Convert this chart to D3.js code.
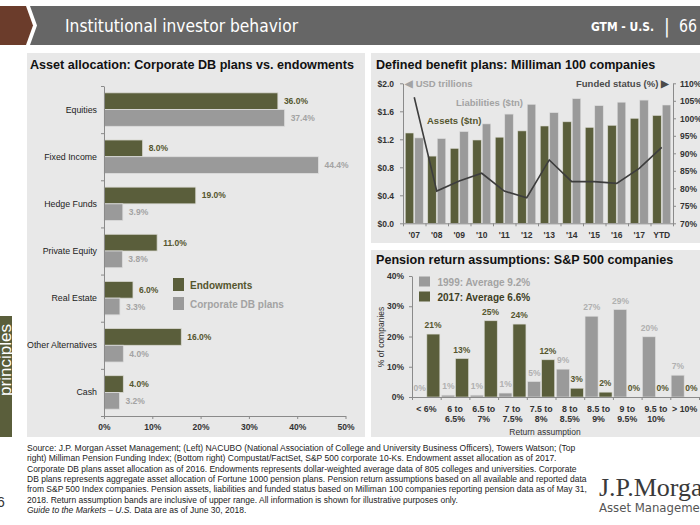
<!DOCTYPE html>
<html><head><meta charset="utf-8">
<script src="https://cdn.jsdelivr.net/npm/d3@7"></script>
<style>
html,body{margin:0;padding:0;background:#fff;}
svg{display:block;font-family:"Liberation Sans",Arial,Helvetica,sans-serif;}
</style></head><body>
<svg id="c" width="700" height="525"></svg>
<script>
// ---------- DATA ----------
const assetCats = ["Equities","Fixed Income","Hedge Funds","Private Equity","Real Estate","Other Alternatives","Cash"];
const endowments = [36.0, 8.0, 19.0, 11.0, 6.0, 16.0, 4.0];
const corporateDB = [37.4, 44.4, 3.9, 3.8, 3.3, 4.0, 3.2];
const allocTicks = [0, 10, 20, 30, 40, 50];

const dbYears = ["'07","'08","'09","'10","'11","'12","'13","'14","'15","'16","'17","YTD"];
const dbAssets = [1.29, 0.96, 1.07, 1.19, 1.23, 1.32, 1.39, 1.45, 1.37, 1.40, 1.50, 1.54];
const dbLiabilities = [1.22, 1.21, 1.31, 1.42, 1.56, 1.70, 1.58, 1.78, 1.68, 1.73, 1.76, 1.69];
const fundedStatus = [106.0, 79.2, 82.1, 84.3, 79.2, 77.3, 88.1, 81.9, 81.9, 81.4, 85.7, 91.7];
const usdTicks = [0, 0.4, 0.8, 1.2, 1.6, 2.0];
const fundedTicks = [70, 75, 80, 85, 90, 95, 100, 105, 110];

const returnCats = ["< 6%","6 to 6.5%","6.5 to 7%","7 to 7.5%","7.5 to 8%","8 to 8.5%","8.5 to 9%","9 to 9.5%","9.5 to 10%","> 10%"];
const returns1999 = [0, 0.6, 0.6, 1.3, 5.1, 9.2, 26.7, 28.9, 19.9, 7.2];
const returns2017 = [20.8, 12.7, 25.2, 24.1, 12.3, 2.9, 1.6, 0, 0, 0];
const pctTicks = [0, 10, 20, 30, 40];

const footerLines = [
 "Source: J.P. Morgan Asset Management; (Left) NACUBO (National Association of College and University Business Officers), Towers Watson; (Top",
 "right) Milliman Pension Funding Index; (Bottom right) Compustat/FactSet, S&P 500 corporate 10-Ks. Endowment asset allocation as of 2017.",
 "Corporate DB plans asset allocation as of 2016. Endowments represents dollar-weighted average data of 805 colleges and universities. Corporate",
 "DB plans represents aggregate asset allocation of Fortune 1000 pension plans. Pension return assumptions based on all available and reported data",
 "from S&P 500 Index companies. Pension assets, liabilities and funded status based on Milliman 100 companies reporting pension data as of May 31,",
 "2018. Return assumption bands are inclusive of upper range. All information is shown for illustrative purposes only."
];

// ---------- STYLE ----------
const OLIVE = "#5a5e3b", GRAY = "#9a9a9a", PANEL = "#e8e8e8", AXIS = "#8a8a8a";
const OLIVE_TXT = "#55562e", GRAY_TXT = "#a3a3a3";
const COND = '"Liberation Sans Narrow","DejaVu Sans Condensed","Roboto",Arial,sans-serif';

const svg = d3.select("#c");

// ---------- HEADER ----------
svg.append("polygon").attr("points","0,6 26,6 33,25.5 26,45 0,45").attr("fill","#6b3c2b");
svg.append("polygon").attr("points","30,6 700,6 700,45 30,45 37,25.5").attr("fill","#666666");
svg.append("text").attr("x",65).attr("y",32).attr("fill","#fff")
  .style("font-family",COND).style("font-size","18px")
  .attr("textLength",233).attr("lengthAdjust","spacingAndGlyphs")
  .text("Institutional investor behavior");
svg.append("text").attr("x",591).attr("y",31).attr("fill","#fff")
  .style("font-family",COND).style("font-size","13px").style("font-weight","bold")
  .attr("textLength",63).attr("lengthAdjust","spacingAndGlyphs")
  .text("GTM - U.S.");
svg.append("text").attr("x",664).attr("y",33).attr("fill","#fff")
  .style("font-family",COND).style("font-size","19px").text("|");
svg.append("text").attr("x",679).attr("y",32).attr("fill","#fff")
  .style("font-family",COND).style("font-size","18px")
  .attr("textLength",18).attr("lengthAdjust","spacingAndGlyphs").text("66");

// ---------- PANELS ----------
svg.append("rect").attr("x",27).attr("y",53).attr("width",338).attr("height",384).attr("fill",PANEL);
svg.append("rect").attr("x",371).attr("y",53).attr("width",329).attr("height",190).attr("fill",PANEL);
svg.append("rect").attr("x",371).attr("y",250).attr("width",329).attr("height",187).attr("fill",PANEL);

// side tab
svg.append("rect").attr("x",0).attr("y",316).attr("width",12).attr("height",121).attr("fill",OLIVE);
svg.append("text").attr("transform","translate(11,360) rotate(-90)").attr("text-anchor","middle")
  .attr("fill","#fff").style("font-size","17px").text("principles");
svg.append("text").attr("x",-3).attr("y",507).attr("fill","#333").style("font-size","14px").text("6");

// titles
const title = (x,y,t)=>svg.append("text").attr("x",x).attr("y",y).attr("fill","#111")
  .style("font-size","12.6px").style("font-weight","bold").text(t);
title(30,69,"Asset allocation: Corporate DB plans vs. endowments");
title(376,69,"Defined benefit plans: Milliman 100 companies");
title(376,264,"Pension return assumptions: S&P 500 companies");

function styleAxis(g, bold){
  g.select(".domain").attr("stroke",AXIS);
  g.selectAll(".tick line").attr("stroke",AXIS);
  g.selectAll(".tick text").attr("fill","#333").style("font-size","8.5px")
   .style("font-family",'"Liberation Sans",Arial,sans-serif')
   .style("font-weight", bold ? "bold" : "normal");
}

// ---------- LEFT: ASSET ALLOCATION ----------
{
  const yA = d3.scaleBand().domain(assetCats).range([86,416]).paddingInner(0.29).paddingOuter(0.145);
  const yA2 = d3.scaleBand().domain(["end","corp"]).range([0,yA.bandwidth()]);
  const xA = d3.scaleLinear().domain([0,50]).range([104,345.5]);
  const g = svg.append("g");
  const rows = assetCats.map((c,i)=>({c, e:endowments[i], k:corporateDB[i]}));

  g.selectAll(".be").data(rows).join("rect")
    .attr("x",xA(0)).attr("y",d=>yA(d.c)+yA2("end"))
    .attr("width",d=>xA(d.e)-xA(0)).attr("height",yA2.bandwidth())
    .attr("fill",OLIVE).attr("stroke","#d9d9d2").attr("stroke-width",0.8);
  g.selectAll(".bc").data(rows).join("rect")
    .attr("x",xA(0)).attr("y",d=>yA(d.c)+yA2("corp"))
    .attr("width",d=>xA(d.k)-xA(0)).attr("height",yA2.bandwidth())
    .attr("fill",GRAY).attr("stroke","#dcdcdc").attr("stroke-width",0.8);

  g.selectAll(".le").data(rows).join("text")
    .attr("x",d=>xA(d.e)+6).attr("y",d=>yA(d.c)+yA2("end")+yA2.bandwidth()/2+3)
    .attr("fill",OLIVE_TXT).style("font-size","8.5px").style("font-weight","bold")
    .text(d=>d.e.toFixed(1)+"%");
  g.selectAll(".lc").data(rows).join("text")
    .attr("x",d=>xA(d.k)+6).attr("y",d=>yA(d.c)+yA2("corp")+yA2.bandwidth()/2+3)
    .attr("fill",GRAY_TXT).style("font-size","8.5px").style("font-weight","bold")
    .text(d=>d.k.toFixed(1)+"%");

  const yEdge = d3.scaleLinear().domain([0,assetCats.length]).range([86,416]);
  const gy = g.append("g").attr("transform",`translate(${xA(0)},0)`)
    .call(d3.axisLeft(yEdge).tickValues(d3.range(assetCats.length+1)).tickFormat("").tickSize(3).tickSizeOuter(0));
  styleAxis(gy,false);
  g.selectAll(".cl").data(assetCats).join("text")
    .attr("x",97).attr("y",d=>yA(d)+yA.bandwidth()/2+3).attr("text-anchor","end")
    .attr("fill","#222").style("font-size","8.8px").text(d=>d);

  const gx = g.append("g").attr("transform","translate(0,416)")
    .call(d3.axisBottom(xA).tickValues(allocTicks).tickFormat(d=>d+"%").tickSize(3).tickSizeOuter(0).tickPadding(5));
  styleAxis(gx,true);

  g.append("rect").attr("x",173).attr("y",278).attr("width",11).attr("height",13).attr("fill",OLIVE);
  g.append("text").attr("x",190).attr("y",288.5).attr("fill",OLIVE_TXT).style("font-size","10px").style("font-weight","bold").text("Endowments");
  g.append("rect").attr("x",173).attr("y",297).attr("width",11).attr("height",13).attr("fill",GRAY);
  g.append("text").attr("x",190).attr("y",307.5).attr("fill",GRAY_TXT).style("font-size","10px").style("font-weight","bold").text("Corporate DB plans");
}

// ---------- TOP RIGHT: MILLIMAN ----------
{
  const xD = d3.scaleBand().domain(dbYears).range([403,673]).paddingInner(0.2).paddingOuter(0.1);
  const xD2 = d3.scaleBand().domain(["a","l"]).range([0,xD.bandwidth()]);
  const yL = d3.scaleLinear().domain([0,2]).range([223.3,83.3]);
  const yR = d3.scaleLinear().domain([70,110]).range([223.3,83.3]);
  const g = svg.append("g");
  const rows = dbYears.map((y,i)=>({y, a:dbAssets[i], l:dbLiabilities[i], f:fundedStatus[i]}));

  g.selectAll(".ba").data(rows).join("rect")
    .attr("x",d=>xD(d.y)+xD2("a")).attr("y",d=>yL(d.a))
    .attr("width",xD2.bandwidth()-0.5).attr("height",d=>yL(0)-yL(d.a))
    .attr("fill",OLIVE).attr("stroke","#d9d9d2").attr("stroke-width",0.6);
  g.selectAll(".bl").data(rows).join("rect")
    .attr("x",d=>xD(d.y)+xD2("l")+0.5).attr("y",d=>yL(d.l))
    .attr("width",xD2.bandwidth()-0.5).attr("height",d=>yL(0)-yL(d.l))
    .attr("fill",GRAY).attr("stroke","#dcdcdc").attr("stroke-width",0.6);

  const line = d3.line().x(d=>xD(d.y)+xD.bandwidth()/2).y(d=>yR(d.f));
  g.append("path").datum(rows).attr("d",line).attr("fill","none")
    .attr("stroke","#3d3d3d").attr("stroke-width",1.6);

  const gl = g.append("g").attr("transform","translate(403,0)")
    .call(d3.axisLeft(yL).tickValues(usdTicks).tickFormat(d=>"$"+d.toFixed(1)).tickSize(3).tickSizeOuter(0).tickPadding(6));
  styleAxis(gl,true);
  const gr = g.append("g").attr("transform","translate(673,0)")
    .call(d3.axisRight(yR).tickValues(fundedTicks).tickFormat(d=>d+"%").tickSize(3).tickSizeOuter(0).tickPadding(4));
  styleAxis(gr,true);

  const xEdge = d3.scaleLinear().domain([0,dbYears.length]).range([403,673]);
  const gb = g.append("g").attr("transform","translate(0,223.3)")
    .call(d3.axisBottom(xEdge).tickValues(d3.range(dbYears.length+1)).tickFormat("").tickSize(3).tickSizeOuter(0));
  styleAxis(gb,false);
  g.selectAll(".xl").data(dbYears).join("text")
    .attr("x",d=>xD(d)+xD.bandwidth()/2).attr("y",238).attr("text-anchor","middle")
    .attr("fill","#333").style("font-size","8.5px").style("font-weight","bold").text(d=>d);

  g.append("text").attr("x",405).attr("y",87).attr("fill",GRAY_TXT).style("font-size","9.5px").style("font-weight","bold").text("\u25C0 USD trillions");
  g.append("text").attr("x",669).attr("y",87).attr("text-anchor","end").attr("fill","#4a4a4a").style("font-size","9.5px").style("font-weight","bold").text("Funded status (%) \u25B6");
  g.append("text").attr("x",456).attr("y",106).attr("fill",GRAY_TXT).style("font-size","9.5px").style("font-weight","bold").text("Liabilities ($tn)");
  g.append("text").attr("x",427).attr("y",124).attr("fill",OLIVE_TXT).style("font-size","9.5px").style("font-weight","bold").text("Assets ($tn)");
}

// ---------- BOTTOM RIGHT: PENSION RETURNS ----------
{
  const xP = d3.scaleBand().domain(returnCats).range([412,699]).paddingInner(0.06).paddingOuter(0.03);
  const xP2 = d3.scaleBand().domain(["y99","y17"]).range([0,xP.bandwidth()]);
  const yP = d3.scaleLinear().domain([0,40]).range([397,276]);
  const g = svg.append("g");
  const rows = returnCats.map((c,i)=>({c, a:returns1999[i], b:returns2017[i]}));

  g.selectAll(".b99").data(rows).join("rect")
    .attr("x",d=>xP(d.c)+xP2("y99")).attr("y",d=>yP(d.a))
    .attr("width",xP2.bandwidth()-0.5).attr("height",d=>yP(0)-yP(d.a))
    .attr("fill",GRAY).attr("stroke","#dcdcdc").attr("stroke-width",0.6);
  g.selectAll(".b17").data(rows).join("rect")
    .attr("x",d=>xP(d.c)+xP2("y17")+0.5).attr("y",d=>yP(d.b))
    .attr("width",xP2.bandwidth()-0.5).attr("height",d=>yP(0)-yP(d.b))
    .attr("fill",OLIVE).attr("stroke","#d9d9d2").attr("stroke-width",0.6);

  g.selectAll(".l99").data(rows).join("text")
    .attr("x",d=>xP(d.c)+xP2("y99")+xP2.bandwidth()/2).attr("y",d=>yP(d.a)-6)
    .attr("text-anchor","middle").attr("fill","#b0b0b0").style("font-size","8.5px").style("font-weight","bold")
    .text(d=>Math.round(d.a)+"%");
  g.selectAll(".l17").data(rows).join("text")
    .attr("x",d=>xP(d.c)+xP2("y17")+xP2.bandwidth()/2).attr("y",d=>yP(d.b)-6)
    .attr("text-anchor","middle").attr("fill",OLIVE_TXT).style("font-size","8.5px").style("font-weight","bold")
    .text(d=>Math.round(d.b)+"%");

  const gy = g.append("g").attr("transform","translate(412,0)")
    .call(d3.axisLeft(yP).tickValues(pctTicks).tickFormat(d=>d+"%").tickSize(3).tickSizeOuter(0).tickPadding(5));
  styleAxis(gy,true);
  const xEdge = d3.scaleLinear().domain([0,returnCats.length]).range([412,699]);
  const gb = g.append("g").attr("transform","translate(0,397)")
    .call(d3.axisBottom(xEdge).tickValues(d3.range(returnCats.length+1)).tickFormat("").tickSize(3).tickSizeOuter(0));
  styleAxis(gb,false);

  const xl = g.selectAll(".xl").data(returnCats).join("text")
    .attr("text-anchor","middle").attr("fill","#333").style("font-size","8.8px").style("font-weight","bold");
  xl.each(function(d){
    const parts = d.includes(" to ") ? [d.split(" to ")[0]+" to", d.split(" to ")[1]] : [d];
    const cx = xP(d)+xP.bandwidth()/2;
    parts.forEach((p,k)=>d3.select(this).append("tspan").attr("x",cx).attr("y",411.5+k*10).text(p));
  });

  g.append("text").attr("x",545).attr("y",434.5).attr("text-anchor","middle").attr("fill","#333")
    .style("font-size","8.5px").text("Return assumption");
  g.append("text").attr("transform","translate(383.5,337) rotate(-90)").attr("text-anchor","middle")
    .attr("fill","#333").style("font-size","8.5px").text("% of companies");

  g.append("rect").attr("x",419).attr("y",276.5).attr("width",11).attr("height",10).attr("fill",GRAY);
  g.append("text").attr("x",437.5).attr("y",285.5).attr("fill",GRAY_TXT).style("font-size","10px").style("font-weight","bold").text("1999: Average 9.2%");
  g.append("rect").attr("x",419).attr("y",291.5).attr("width",11).attr("height",10).attr("fill",OLIVE);
  g.append("text").attr("x",437.5).attr("y",300.5).attr("fill","#3e3e25").style("font-size","10px").style("font-weight","bold").text("2017: Average 6.6%");
}

// ---------- FOOTER ----------
{
  const f = svg.append("g").style("font-size","8.5px").attr("fill","#222");
  footerLines.forEach((t,i)=>f.append("text").attr("x",27).attr("y",451+i*10.3).text(t));
  const last = f.append("text").attr("x",27).attr("y",451+6*10.3);
  last.append("tspan").style("font-style","italic").text("Guide to the Markets \u2013 U.S.");
  last.append("tspan").text(" Data are as of June 30, 2018.");

  svg.append("text").attr("x",599).attr("y",496).attr("fill","#3a3a3a")
    .style("font-family",'"Liberation Serif","Times New Roman",serif').style("font-size","26px").text("J.P.Morgan");
  svg.append("text").attr("x",599).attr("y",512).attr("fill","#555")
    .style("font-family",COND).style("font-size","13px").text("Asset Management");
}
</script>
</body></html>
